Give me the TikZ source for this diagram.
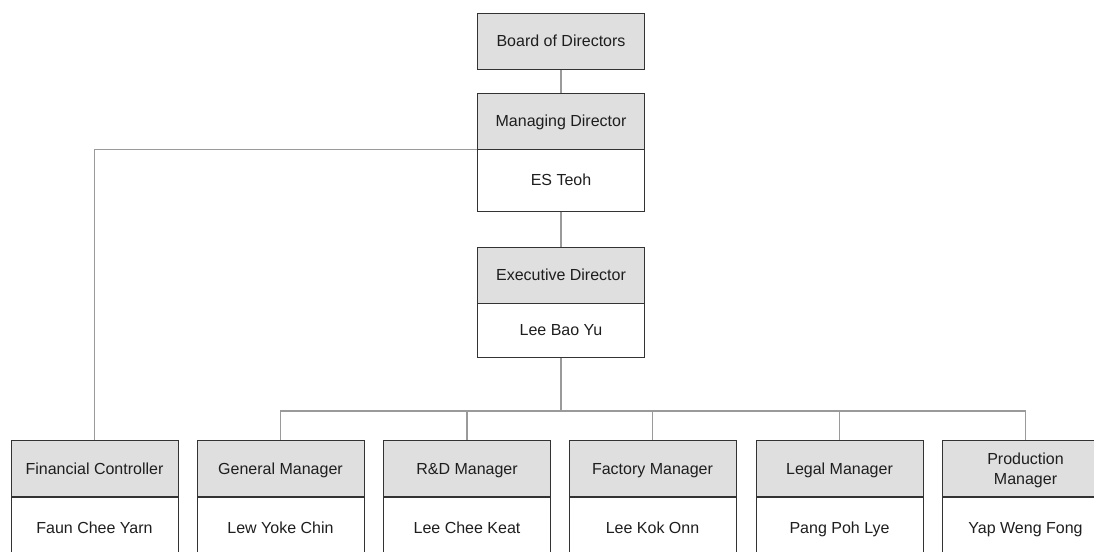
\documentclass[tikz,border=0pt]{standalone}
\usepackage{fontspec}
\setmainfont{Liberation Sans}
\usepackage{tikz}
\usetikzlibrary{positioning}

\definecolor{boxgrey}{HTML}{DFDFDF}
\definecolor{boxline}{HTML}{333333}
\definecolor{linkgrey}{HTML}{9A9A9A}
\definecolor{textdark}{HTML}{1E1E1E}

\tikzset{
    rolebox/.style={draw=boxline, line width=0.75pt, fill=boxgrey, text=textdark, minimum width=125.25pt, minimum height=42pt, inner sep=0pt, text height=8.6pt, text depth=0pt, align=center, font=\fontsize{12}{15}\selectfont},
    personbox/.style={draw=boxline, line width=0.75pt, fill=white, text=textdark, minimum width=125.25pt, minimum height=46.5pt, inner sep=0pt, text height=8.6pt, text depth=0pt, align=center, font=\fontsize{12}{15}\selectfont},
    link/.style={draw=linkgrey, line width=0.8pt}
}

\begin{document}
\begin{tikzpicture}[x=0.75pt,y=0.75pt,yscale=-1,xscale=1]
    \useasboundingbox (0,0) rectangle (1094,551);

    % Top of the chart
    \node [rolebox] (board) at (561,41) {Board of Directors};
    \node [rolebox] (mdrole) at (561,121) {Managing Director};
    \node [personbox] (mdname) at (561,180) {ES Teoh};
    \node [rolebox] (exrole) at (561,275) {Executive Director};
    \node [personbox, minimum height=40.5pt] (exname) at (561,330) {Lee Bao Yu};

    % Bottom row, role
    \node [rolebox] (fcrole) at (94.5,468.5) {Financial Controller};
    \node [rolebox] (gmrole) at (280.5,468.5) {General Manager};
    \node [rolebox] (rdrole) at (467,468.5) {R\&D Manager};
    \node [rolebox] (factrole) at (652.5,468.5) {Factory Manager};
    \node [rolebox] (legalrole) at (839.5,468.5) {Legal Manager};
    \node [rolebox, text height=23.6pt] (prodrole) at (1025.5,468.5) {Production\\Manager};

    % Bottom row, person
    \node [personbox] (fcname) at (94.5,528) {Faun Chee Yarn};
    \node [personbox] (gmname) at (280.5,528) {Lew Yoke Chin};
    \node [personbox] (rdname) at (467,528) {Lee Chee Keat};
    \node [personbox] (factname) at (652.5,528) {Lee Kok Onn};
    \node [personbox] (legalname) at (839.5,528) {Pang Poh Lye};
    \node [personbox] (prodname) at (1025.5,528) {Yap Weng Fong};

    % Links
    \coordinate (bus) at (561,411);
    \draw [link] (board.south) -- (mdrole.north);
    \draw [link] (mdname.south) -- (exrole.north);
    \draw [link] (mdrole.south west) -| (fcrole.north);
    \draw [link] (exname.south) -- (bus);
    \draw [link] (gmrole.north) |- (bus) -| (prodrole.north);
    \draw [link] (rdrole.north) -- (rdrole.north |- bus);
    \draw [link] (factrole.north) -- (factrole.north |- bus);
    \draw [link] (legalrole.north) -- (legalrole.north |- bus);

\end{tikzpicture}
\end{document}
